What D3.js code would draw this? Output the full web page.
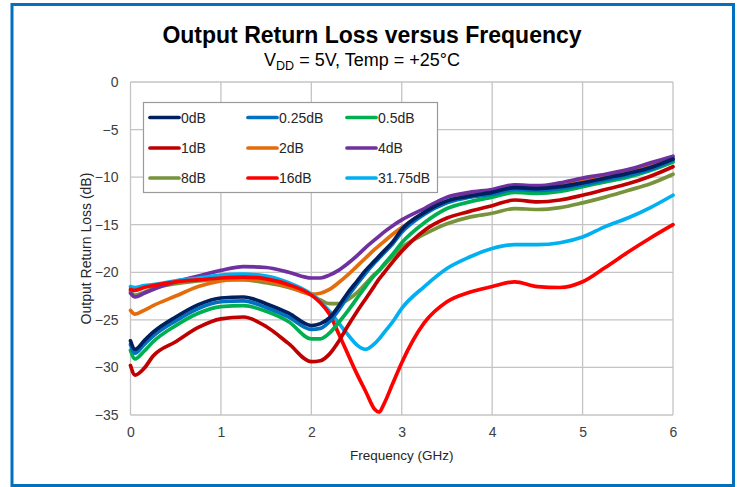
<!DOCTYPE html>
<html><head><meta charset="utf-8">
<script src="https://cdn.jsdelivr.net/npm/d3@7"></script>
<style>html,body{margin:0;padding:0;background:#fff;}svg{display:block;font-family:"Liberation Sans",Arial,sans-serif;}</style>
</head><body><svg id="c" width="740" height="487"></svg>
<script>
const freq = [0,0.05,0.15,0.25,0.5,0.75,1,1.25,1.5,1.75,2,2.1,2.2,2.3,2.4,2.5,2.6,2.7,2.75,2.8,2.9,3,3.25,3.5,3.75,4,4.25,4.5,4.75,5,5.25,5.5,5.75,6];
const s0dB    = [-27.2,-28.1,-27.2,-26.3,-24.7,-23.4,-22.7,-22.6,-23.3,-24.3,-25.6,-25.4,-24.8,-23.6,-22.2,-21.0,-19.8,-18.8,-18.3,-17.8,-16.8,-15.5,-13.7,-12.5,-12.0,-11.6,-11.1,-11.2,-11.0,-10.6,-10.1,-9.6,-9.0,-8.1];
const s025dB  = [-27.6,-28.5,-27.6,-26.7,-25.1,-23.8,-23.1,-23.0,-23.7,-24.7,-26.0,-25.9,-25.2,-24.0,-22.6,-21.3,-20.1,-19.0,-18.5,-18.0,-17.0,-15.8,-13.9,-12.7,-12.1,-11.8,-11.3,-11.4,-11.2,-10.8,-10.3,-9.8,-9.2,-8.2];
const s05dB   = [-28.2,-29.1,-28.3,-27.3,-25.6,-24.3,-23.6,-23.5,-24.1,-25.2,-27.0,-27.0,-26.4,-25.3,-24.1,-22.8,-21.5,-20.3,-19.8,-19.2,-18.1,-16.9,-14.8,-13.3,-12.6,-12.1,-11.6,-11.7,-11.5,-11.0,-10.5,-10.0,-9.3,-8.4];
const s1dB    = [-29.8,-30.8,-30.1,-28.8,-27.3,-25.8,-24.9,-24.7,-25.7,-27.5,-29.4,-29.3,-28.6,-27.3,-25.7,-24.2,-22.8,-21.4,-20.7,-20.1,-18.9,-17.8,-15.6,-14.3,-13.6,-13.0,-12.4,-12.6,-12.4,-11.9,-11.3,-10.7,-9.9,-8.9];
const s2dB    = [-24.0,-24.4,-24.0,-23.5,-22.5,-21.5,-20.9,-20.7,-20.9,-21.5,-22.3,-22.2,-21.8,-21.1,-20.3,-19.4,-18.5,-17.6,-17.2,-16.8,-16.0,-15.3,-13.8,-12.6,-11.8,-11.5,-10.9,-11.0,-10.8,-10.3,-9.8,-9.3,-8.7,-8.0];
const s4dB    = [-22.2,-22.6,-22.2,-21.8,-21.0,-20.4,-19.8,-19.4,-19.5,-20.0,-20.6,-20.6,-20.3,-19.8,-19.1,-18.3,-17.4,-16.6,-16.2,-15.8,-15.1,-14.5,-13.3,-12.1,-11.6,-11.3,-10.8,-10.9,-10.6,-10.1,-9.7,-9.2,-8.5,-7.8];
const s8dB    = [-22.0,-22.4,-22.1,-21.7,-21.2,-20.9,-20.8,-20.8,-21.1,-21.6,-22.4,-22.9,-23.3,-23.3,-22.9,-22.2,-21.2,-20.2,-19.8,-19.3,-18.3,-17.4,-16.0,-14.9,-14.2,-13.8,-13.3,-13.4,-13.2,-12.7,-12.1,-11.4,-10.7,-9.7];
const s16dB   = [-21.8,-21.9,-21.6,-21.4,-21.0,-20.8,-20.6,-20.5,-20.7,-21.3,-22.4,-23.2,-24.4,-26.4,-28.5,-30.6,-32.5,-34.4,-34.7,-33.9,-31.7,-29.5,-25.3,-23.1,-22.1,-21.5,-21.0,-21.5,-21.6,-21.0,-19.5,-17.9,-16.4,-15.0];
const s3175dB = [-21.5,-21.6,-21.4,-21.3,-20.9,-20.6,-20.3,-20.2,-20.4,-21.1,-22.3,-23.1,-24.1,-25.3,-26.5,-27.6,-28.1,-27.5,-27.0,-26.4,-25.2,-23.8,-21.5,-19.6,-18.4,-17.5,-17.1,-17.1,-16.9,-16.3,-15.2,-14.3,-13.2,-11.9];

const seriesNames  = ["0dB","0.25dB","0.5dB","1dB","2dB","4dB","8dB","16dB","31.75dB"];
const seriesValues = [s0dB,s025dB,s05dB,s1dB,s2dB,s4dB,s8dB,s16dB,s3175dB];
const seriesColors = ["#002060","#0070C0","#00B050","#C00000","#E46C0A","#7030A0","#77933C","#FF0000","#00B0F0"];
const drawOrder = [6,4,5,8,7,3,2,1,0];
const xTicks = [0,1,2,3,4,5,6];
const yTicks = [0,-5,-10,-15,-20,-25,-30,-35];

const svg = d3.select("#c");
const m = {left:130.5, right:673, top:82, bottom:415};
const x = d3.scaleLinear().domain([0,6]).range([m.left, m.right]);
const y = d3.scaleLinear().domain([-35,0]).range([m.bottom, m.top]);

// outer frame
svg.append("rect").attr("x",12).attr("y",4.5).attr("width",721.5).attr("height",481)
  .attr("fill","#fff").attr("stroke","#0070C0").attr("stroke-width",3);

// gridlines
const g = svg.append("g");
g.selectAll("line.h").data(yTicks).enter().append("line")
  .attr("x1",m.left).attr("x2",m.right).attr("y1",d=>y(d)).attr("y2",d=>y(d))
  .attr("stroke","#C4C4C4").attr("stroke-width",1.3);
g.selectAll("line.v").data(xTicks).enter().append("line")
  .attr("y1",m.top).attr("y2",m.bottom).attr("x1",d=>x(d)).attr("x2",d=>x(d))
  .attr("stroke","#C4C4C4").attr("stroke-width",1.3);

// axes labels via d3 axes (no domain/ticks)
const xAxis = svg.append("g").attr("transform",`translate(0,${m.bottom})`)
  .call(d3.axisBottom(x).tickValues(xTicks).tickSize(0).tickPadding(12).tickFormat(d3.format("d")));
const yAxis = svg.append("g").attr("transform",`translate(${m.left},0)`)
  .call(d3.axisLeft(y).tickValues(yTicks).tickSize(0).tickPadding(12).tickFormat(d3.format("d")));
[xAxis,yAxis].forEach(a=>{
  a.select(".domain").remove();
  a.selectAll("text").attr("font-family","Liberation Sans, Arial, sans-serif").attr("font-size",14).attr("fill","#404040");
});

// lines
const line = d3.line().x((d,i)=>x(freq[i])).y(d=>y(d)).curve(d3.curveMonotoneX);
const lg = svg.append("g");
drawOrder.forEach(k=>{
  lg.append("path").datum(seriesValues[k]).attr("d",line)
    .attr("fill","none").attr("stroke",seriesColors[k]).attr("stroke-width",3.7)
    .attr("stroke-linejoin","round").attr("stroke-linecap","round");
});

// legend
const L = svg.append("g");
L.append("rect").attr("x",143.5).attr("y",102.5).attr("width",294).attr("height",90)
  .attr("fill","#fff").attr("stroke","#9A9A9A").attr("stroke-width",1.2);
const colX = [149,247,346], rowY = [117.5,148,178];
seriesNames.forEach((n,i)=>{
  const cx = colX[i%3], cy = rowY[Math.floor(i/3)];
  L.append("line").attr("x1",cx+1).attr("x2",cx+30).attr("y1",cy).attr("y2",cy)
    .attr("stroke",seriesColors[i]).attr("stroke-width",3.7).attr("stroke-linecap","round");
  L.append("text").attr("x",cx+32).attr("y",cy+5).text(n)
    .attr("font-size",14).attr("fill","#262626");
});

// titles
svg.append("text").attr("x",372).attr("y",43).attr("text-anchor","middle")
  .attr("font-size",23).attr("font-weight","bold").attr("fill","#000")
  .text("Output Return Loss versus Frequency");
const st = svg.append("text").attr("x",362).attr("y",66).attr("text-anchor","middle")
  .attr("font-size",18).attr("fill","#000");
st.append("tspan").text("V");
st.append("tspan").attr("font-size",12.5).attr("dy",4).text("DD");
st.append("tspan").attr("dy",-4).text(" = 5V, Temp = +25°C");

svg.append("text").attr("x",(m.left+m.right)/2).attr("y",460).attr("text-anchor","middle")
  .attr("font-size",13.5).attr("fill","#262626").text("Frequency (GHz)");
svg.append("text").attr("transform",`translate(91,${(m.top+m.bottom)/2}) rotate(-90)`)
  .attr("text-anchor","middle").attr("font-size",14).attr("fill","#262626").text("Output Return Loss (dB)");
</script></body></html>
